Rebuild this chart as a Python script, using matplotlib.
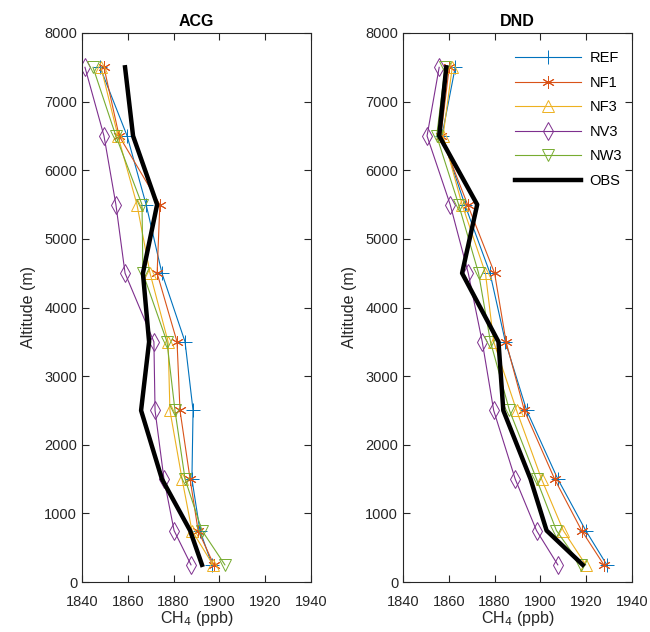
import matplotlib.pyplot as plt
import numpy as np

plt.rcParams['font.family'] = ['Liberation Sans', 'DejaVu Sans']

alt = [7500, 6500, 5500, 4500, 3500, 2500, 1500, 750, 250]
runs = ["REF", "NF1", "NF3", "NV3", "NW3"]

acg = {
    "REF": [1847.9, 1859.7, 1868.0, 1874.9, 1885.0, 1888.5, 1888.0, 1891.5, 1896.8],
    "NF1": [1849.6, 1856.2, 1874.0, 1872.8, 1881.5, 1882.8, 1887.2, 1890.7, 1897.6],
    "NF3": [1848.3, 1855.7, 1864.0, 1869.7, 1877.6, 1878.4, 1883.7, 1888.0, 1897.2],
    "NV3": [1841.3, 1849.6, 1854.8, 1858.8, 1871.4, 1871.9, 1875.8, 1880.2, 1887.6],
    "NW3": [1844.8, 1854.8, 1866.2, 1866.6, 1877.1, 1880.6, 1885.0, 1892.4, 1902.4],
}
acg_obs = [1858.8, 1862.3, 1872.8, 1866.6, 1869.3, 1865.8, 1874.9, 1887.2, 1892.4]

dnd = {
    "REF": [1862.8, 1857.0, 1867.0, 1878.0, 1884.7, 1894.0, 1907.6, 1919.8, 1929.0],
    "NF1": [1860.2, 1856.5, 1868.2, 1880.0, 1885.0, 1893.0, 1906.2, 1918.0, 1927.7],
    "NF3": [1861.5, 1857.5, 1865.8, 1876.0, 1879.6, 1889.6, 1900.5, 1910.0, 1919.8],
    "NV3": [1855.8, 1850.5, 1860.6, 1868.5, 1874.6, 1879.6, 1889.0, 1898.3, 1907.6],
    "NW3": [1858.4, 1854.7, 1864.3, 1873.0, 1878.2, 1886.5, 1898.3, 1907.0, 1917.6],
}
dnd_obs = [1858.9, 1855.8, 1872.4, 1865.8, 1881.7, 1883.8, 1895.7, 1902.7, 1918.5]

colors = {"REF": "#0072BD", "NF1": "#D95319", "NF3": "#EDB120",
          "NV3": "#7E2F8E", "NW3": "#77AC30"}
markers = {"REF": ("+", 10), "NF1": ((6, 2, 0), 9), "NF3": ("^", 8.5),
           "NV3": ("d", 9), "NW3": ("v", 8.5)}

fig = plt.figure(figsize=(6.5, 6.32), dpi=100)
ax1 = fig.add_axes([82 / 650, 50 / 632, 229 / 650, 549 / 632])
ax2 = fig.add_axes([403 / 650, 50 / 632, 229 / 650, 549 / 632])

for ax, data, obs, title in [(ax1, acg, acg_obs, "ACG"), (ax2, dnd, dnd_obs, "DND")]:
    for r in runs:
        m, ms = markers[r]
        ax.plot(data[r], alt, color=colors[r], lw=0.8, label=r, marker=m,
                markersize=ms, markerfacecolor="none", markeredgewidth=0.7)
    ax.plot(obs, alt, color="black", lw=3.2, label="OBS")
    ax.set_xlim(1840, 1940)
    ax.set_ylim(0, 8000)
    ax.set_xticks(np.arange(1840, 1941, 20))
    ax.set_yticks(np.arange(0, 8001, 1000))
    ax.tick_params(direction="in", top=True, right=True, length=5,
                   labelsize=10.5, color="#262626", labelcolor="#262626")
    ax.tick_params(axis="x", pad=9)
    for s in ax.spines.values():
        s.set_color("#262626")
        s.set_linewidth(0.8)
    ax.set_title(title, fontsize=11.5, fontweight="bold", pad=5)
    ax.set_xlabel("CH$_4$ (ppb)", fontsize=11.5, color="#262626", labelpad=0)
    ax.set_ylabel("Altitude (m)", fontsize=11.5, color="#262626", labelpad=6)

ax2.legend(loc="upper right", frameon=False, fontsize=10.5, handlelength=4.5,
           labelspacing=0.72, bbox_to_anchor=(1.0, 0.985), borderaxespad=0.3,
           handletextpad=0.6)

fig.savefig("out.png", dpi=100)
